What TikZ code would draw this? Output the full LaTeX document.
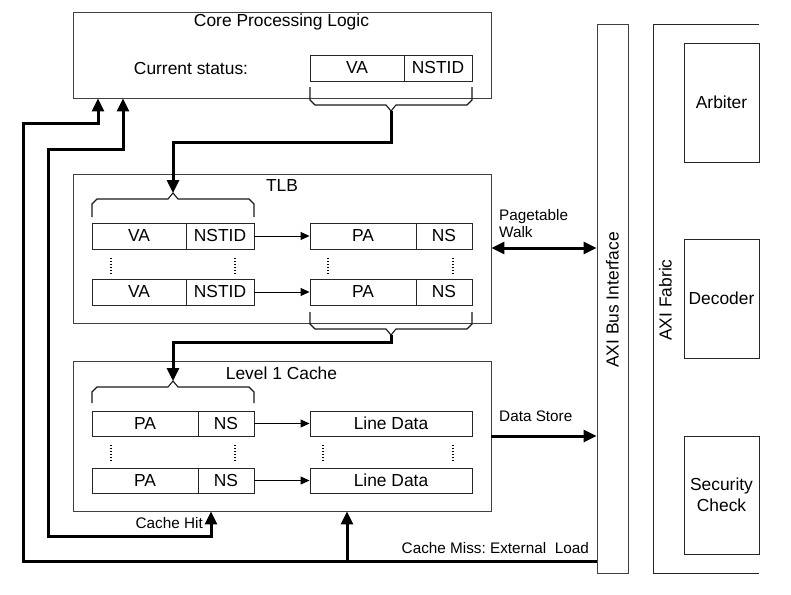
\documentclass[tikz,border=0pt]{standalone}
\usepackage{fontspec}
\setmainfont{Liberation Sans}
\usetikzlibrary{arrows.meta}
\frenchspacing
\begin{document}
\begin{tikzpicture}[x=1pt,y=-1pt,
  outerbox/.style={draw=black!75, line width=0.9pt, inner sep=0pt},
  cell/.style={draw=black!85, line width=0.9pt, inner sep=0pt, minimum height=26pt, font=\fontsize{17.4}{20}\selectfont},
  sidebox/.style={draw=black!85, line width=0.9pt, inner sep=0pt, minimum width=75pt, minimum height=119pt, align=center, font=\fontsize{17.4}{21}\selectfont},
  title/.style={inner sep=0pt, font=\fontsize{17.4}{20}\selectfont},
  small/.style={inner sep=0pt, font=\fontsize{15.3}{17}\selectfont},
  bracepath/.style={draw=black!90, line width=1.1pt},
  thick/.style={line width=3pt, -{Triangle[length=13pt,width=12pt]}},
  thin/.style={line width=0.9pt, -{Triangle[length=9pt,width=8pt]}},
  dots/.style={line width=1.1pt, dash pattern=on 1pt off 2pt}
]
\useasboundingbox (0,0) rectangle (791,594);

% ---------- Core Processing Logic ----------
\node[outerbox, minimum width=418pt, minimum height=86pt] (core) at (282,55) {};
\node[title] (coret) at (281.5,22) {Core Processing Logic};
\node[title] (curst) at (191,69) {Current status:};
\node[cell, minimum width=94pt] (cva) at (357,68) {VA};
\node[cell, minimum width=68pt] (cns) at (438,68) {NSTID};
\draw[bracepath] (310,87) -- (310,100) -- (315,105) -- (386,105) -- (391,111) -- (396,105) -- (467,105) -- (472,100) -- (472,87);
\coordinate (b1) at (391,111);

% ---------- TLB ----------
\node[outerbox, minimum width=418pt, minimum height=149pt] (tlb) at (282,248.5) {};
\node[title] (tlbt) at (282,186) {TLB};
\draw[bracepath] (92,217) -- (92,204) -- (97,199) -- (168,199) -- (173,193) -- (178,199) -- (249,199) -- (254,204) -- (254,217);
\coordinate (b2) at (173,193);

\node[cell, minimum width=94pt] (va1) at (139,236) {VA};
\node[cell, minimum width=68pt] (nst1) at (220,236) {NSTID};
\node[cell, minimum width=106pt] (pa1) at (363,236) {PA};
\node[cell, minimum width=56pt] (ns1) at (444,236) {NS};
\node[cell, minimum width=94pt] (va2) at (139,292) {VA};
\node[cell, minimum width=68pt] (nst2) at (220,292) {NSTID};
\node[cell, minimum width=106pt] (pa2) at (363,292) {PA};
\node[cell, minimum width=56pt] (ns2) at (444,292) {NS};
\draw[thin] (nst1) -- (pa1);
\draw[thin] (nst2) -- (pa2);
\foreach \xx in {111,235,328,453} \draw[dots] (\xx,258) -- (\xx,274);
\draw[bracepath] (310,312) -- (310,324) -- (315,329) -- (386,329) -- (391,335) -- (396,329) -- (467,329) -- (472,324) -- (472,312);
\coordinate (b3) at (391,335);

% ---------- Level 1 Cache ----------
\node[outerbox, minimum width=418pt, minimum height=150pt] (l1) at (282,436) {};
\node[title] (l1t) at (281.5,373) {Level 1 Cache};
\draw[bracepath] (92,403) -- (92,392) -- (97,387) -- (168,387) -- (173,381) -- (178,387) -- (249,387) -- (254,392) -- (254,403);
\coordinate (b4) at (173,381);

\node[cell, minimum width=106pt, minimum height=25pt] (pa3) at (145,423.5) {PA};
\node[cell, minimum width=56pt, minimum height=25pt] (ns3) at (226,423.5) {NS};
\node[cell, minimum width=162pt, minimum height=25pt] (ld1) at (391,423.5) {Line Data};
\node[cell, minimum width=106pt, minimum height=25pt] (pa4) at (145,480.5) {PA};
\node[cell, minimum width=56pt, minimum height=25pt] (ns4) at (226,480.5) {NS};
\node[cell, minimum width=162pt, minimum height=25pt] (ld2) at (391,480.5) {Line Data};
\draw[thin] (ns3) -- (ld1);
\draw[thin] (ns4) -- (ld2);
\foreach \xx in {111,235,323,453} \draw[dots] (\xx,445) -- (\xx,461);

% ---------- AXI ----------
\node[outerbox, minimum width=31pt, minimum height=549pt] (bus) at (612.5,298.5) {};
\node[title, rotate=90] (bust) at (612.5,300) {AXI Bus Interface};
\draw[draw=black!85, line width=0.9pt] (759,24) -- (653,24) -- (653,573) -- (759,573);
\node[title, rotate=90] (fabt) at (665.5,300) {AXI Fabric};
\node[sidebox] (arb) at (721.5,102.5) {Arbiter};
\node[sidebox] (dec) at (721.5,298.5) {Decoder};
\node[sidebox, minimum height=118pt] (sec) at (721.5,495) {Security\\Check};

% ---------- connectors ----------
\draw[thick] (b1) -- (391,142) -- (173,142) -- (b2);
\draw[thick] (b3) -- (391,342) -- (173,342) -- (b4);

\draw[line width=3pt, {Triangle[length=13pt,width=12pt]}-{Triangle[length=13pt,width=12pt]}] (tlb.east |- 0,248) -- (bus.west |- 0,248);
\node[small, anchor=west, align=left] (ptw) at (499,224) {Pagetable\\Walk};

\draw[thick] (l1.east |- 0,436) -- (bus.west |- 0,436);
\node[small, anchor=west] (dst) at (499,416) {Data Store};

\coordinate (o1) at (23,561);
\coordinate (o2) at (23,123);
\coordinate (o3) at (98,123);
\draw[thick] (bus.west |- 0,561) -- (o1) -- (o2) -- (o3) -- (core.south -| o3);
\coordinate (m1) at (347,561);
\draw[thick] (m1) -- (l1.south -| m1);
\node[small, anchor=east] (cmiss) at (589,548) {Cache Miss: External\ \ Load};

\coordinate (h1) at (123,149);
\coordinate (h2) at (48,149);
\coordinate (h3) at (48,536);
\coordinate (h4) at (211,536);
\draw[line width=3pt, {Triangle[length=13pt,width=12pt]}-{Triangle[length=13pt,width=12pt]}] (core.south -| h1) -- (h1) -- (h2) -- (h3) -- (h4) -- (l1.south -| h4);
\node[small, anchor=east] (chit) at (203,523) {Cache Hit};
\end{tikzpicture}
\end{document}
